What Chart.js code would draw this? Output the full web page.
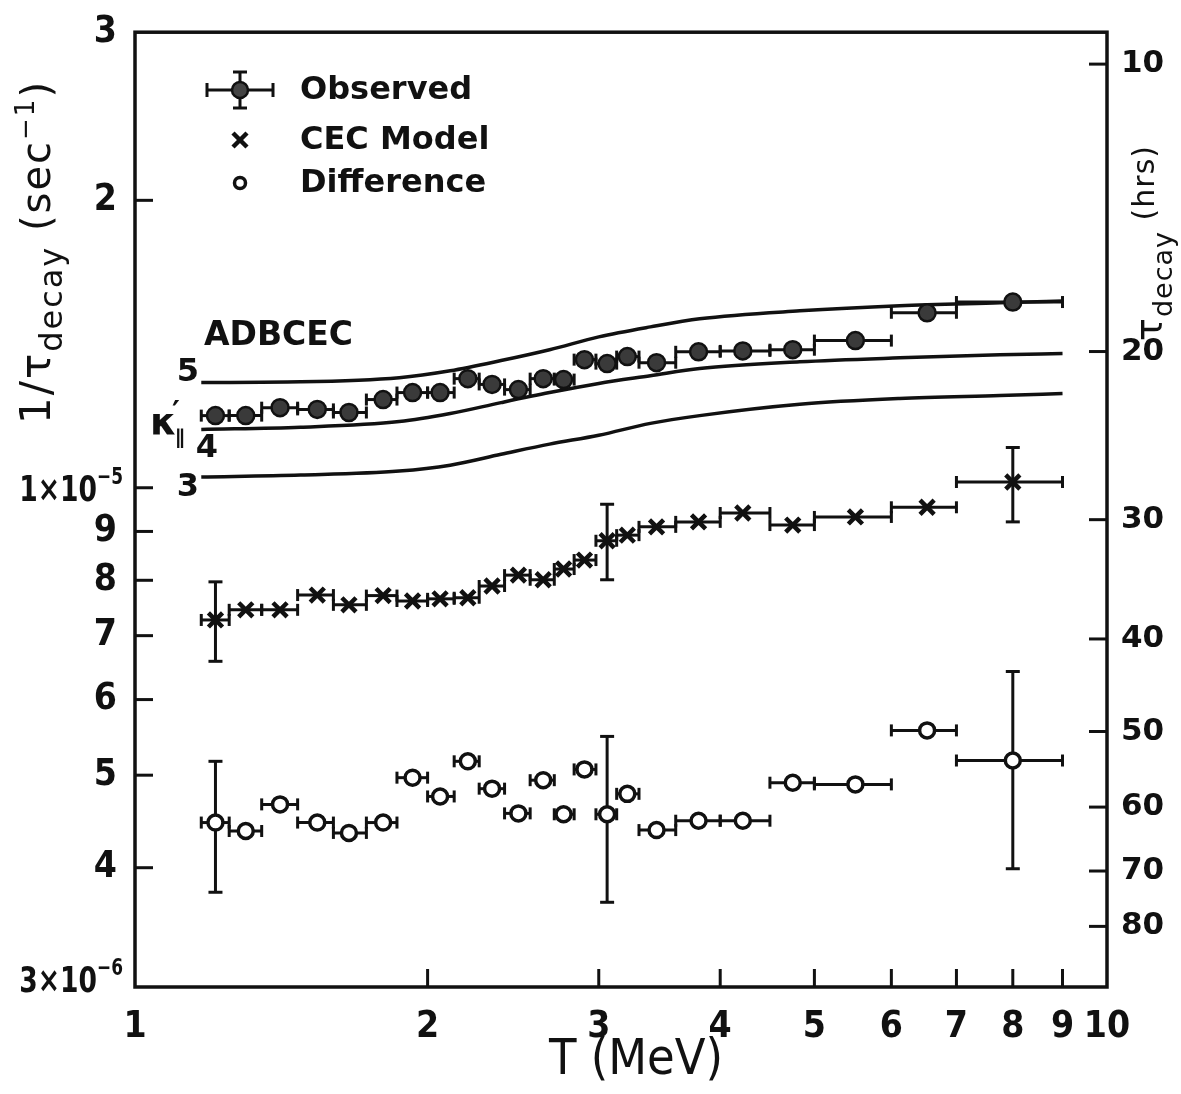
<!DOCTYPE html>
<html lang="en">
<head>
<meta charset="utf-8">
<title>Decay rate versus energy</title>
<script src="https://cdn.jsdelivr.net/npm/chart.js@4.4.1/dist/chart.umd.min.js"></script>
<style>
html,body{margin:0;padding:0;background:#fff;}
#wrap{position:relative;width:1181px;height:1094px;}
canvas{display:block;}
</style>
</head>
<body>
<div id="wrap"><canvas id="chart" width="1181" height="1094"></canvas></div>
<script>
// Energy bins (MeV): centre of each bin and its edges
const energy  = [1.21,1.30,1.41,1.54,1.66,1.80,1.93,2.06,2.20,2.33,2.48,2.63,2.76,2.90,3.06,3.21,3.44,3.80,4.22,4.75,5.51,6.53,8.0];
const binLow  = [1.17,1.25,1.35,1.47,1.60,1.73,1.86,2.00,2.13,2.26,2.40,2.55,2.70,2.83,2.98,3.13,3.30,3.60,4.0,4.5,5.0,6.0,7.0];
const binHigh = [1.25,1.35,1.47,1.60,1.73,1.86,2.00,2.13,2.26,2.40,2.55,2.70,2.83,2.98,3.13,3.30,3.60,4.0,4.5,5.0,6.0,7.0,9.0];

// 1/tau_decay (sec^-1)
const observed   = [1.190e-5,1.190e-5,1.213e-5,1.208e-5,1.199e-5,1.237e-5,1.258e-5,1.258e-5,1.301e-5,1.283e-5,1.267e-5,1.301e-5,1.298e-5,1.362e-5,1.349e-5,1.372e-5,1.352e-5,1.388e-5,1.391e-5,1.395e-5,1.426e-5,1.525e-5,1.565e-5];
const cecModel   = [7.27e-6,7.45e-6,7.45e-6,7.72e-6,7.54e-6,7.71e-6,7.61e-6,7.65e-6,7.67e-6,7.89e-6,8.10e-6,8.01e-6,8.22e-6,8.40e-6,8.80e-6,8.92e-6,9.10e-6,9.21e-6,9.41e-6,9.14e-6,9.32e-6,9.54e-6,1.014e-5];
const difference = [4.46e-6,4.37e-6,4.66e-6,4.46e-6,4.35e-6,4.46e-6,4.97e-6,4.75e-6,5.17e-6,4.84e-6,4.56e-6,4.94e-6,4.55e-6,5.07e-6,4.55e-6,4.78e-6,4.38e-6,4.48e-6,4.48e-6,4.91e-6,4.89e-6,5.57e-6,5.18e-6];

// Representative vertical error bars (bin index, low, high)
const errIndex    = [0, 14, 22];
const cecErrLow   = [6.58e-6, 8.01e-6, 9.21e-6];
const cecErrHigh  = [7.97e-6, 9.61e-6, 1.102e-5];
const diffErrLow  = [3.77e-6, 3.68e-6, 3.99e-6];
const diffErrHigh = [5.17e-6, 5.49e-6, 6.42e-6];

// ADBCEC calculation for kappa'_par = 5, 4, 3
const curveT = [1.17,1.48,1.87,2.11,2.38,2.67,3.0,3.39,3.81,4.83,6.12,7.76,9.0];
const kappa5 = [1.289e-5,1.291e-5,1.304e-5,1.326e-5,1.359e-5,1.395e-5,1.439e-5,1.474e-5,1.503e-5,1.532e-5,1.551e-5,1.562e-5,1.569e-5];
const kappa4 = [1.151e-5,1.157e-5,1.173e-5,1.196e-5,1.228e-5,1.258e-5,1.286e-5,1.310e-5,1.333e-5,1.355e-5,1.368e-5,1.378e-5,1.382e-5];
const kappa3 = [1.026e-5,1.031e-5,1.041e-5,1.056e-5,1.084e-5,1.111e-5,1.135e-5,1.168e-5,1.190e-5,1.223e-5,1.240e-5,1.249e-5,1.255e-5];

// Axis ticks
const xTicks      = [1,2,3,4,5,6,7,8,9,10];
const yTicks      = [3e-6,4e-6,5e-6,6e-6,7e-6,8e-6,9e-6,1e-5,2e-5,3e-5];
const yTickLabels = ['','4','5','6','7','8','9','','2','3'];
// decade labels written as mantissa×10^exponent
const yPowValues  = [1e-5, 3e-6];
const yPowBase    = ['1×10', '3×10'];
const yPowExp     = ['−5', '−6'];
const tauHours    = [10,20,30,40,50,60,70,80];

const INK = '#111';
const NARROW = '"Liberation Sans Narrow","DejaVu Sans Condensed","Liberation Sans",sans-serif';
const WIDE = '"DejaVu Sans",sans-serif';

const pts = (xs, ys) => xs.map((t, i) => ({x: t, y: ys[i]}));

function seg(ctx, x1, y1, x2, y2) {
  ctx.beginPath(); ctx.moveTo(x1, y1); ctx.lineTo(x2, y2); ctx.stroke();
}
function hErr(ctx, xs, ys, lo, hi, v, cap) {
  const a = xs.getPixelForValue(lo), b = xs.getPixelForValue(hi), p = ys.getPixelForValue(v);
  seg(ctx, a, p, b, p); seg(ctx, a, p - cap, a, p + cap); seg(ctx, b, p - cap, b, p + cap);
}
function vErr(ctx, xs, ys, t, lo, hi, cap) {
  const p = xs.getPixelForValue(t), a = ys.getPixelForValue(lo), b = ys.getPixelForValue(hi);
  seg(ctx, p, a, p, b); seg(ctx, p - cap, a, p + cap, a); seg(ctx, p - cap, b, p + cap, b);
}
function runsWidth(ctx, runs) {
  let w = 0;
  for (const r of runs) { ctx.font = r.font; w += ctx.measureText(r.text).width; }
  return w;
}
function drawRuns(ctx, runs, x, y) {
  let cx = x;
  for (const r of runs) { ctx.font = r.font; ctx.fillText(r.text, cx, y + (r.dy || 0)); cx += ctx.measureText(r.text).width; }
}
function drawVertical(ctx, runs, baseX, centerY, spacing) {
  ctx.save();
  ctx.letterSpacing = spacing || '0px';
  const w = runsWidth(ctx, runs);
  ctx.translate(baseX, centerY + w / 2);
  ctx.rotate(-Math.PI / 2);
  ctx.textAlign = 'left'; ctx.textBaseline = 'alphabetic';
  drawRuns(ctx, runs, 0, 0);
  ctx.restore();
}
// right-aligned, horizontally condensed label with a superscript exponent
function drawPowLabel(ctx, base, exp, rightX, midY) {
  const runs = [
    {text: base, font: 'bold 36px ' + NARROW},
    {text: exp, font: 'bold 23px ' + NARROW, dy: -17}
  ];
  const sx = 0.82;
  const w = runsWidth(ctx, runs) * sx;
  ctx.save();
  ctx.translate(rightX - w, midY + 13);
  ctx.scale(sx, 1);
  ctx.textAlign = 'left'; ctx.textBaseline = 'alphabetic';
  drawRuns(ctx, runs, 0, 0);
  ctx.restore();
}

const decor = {
  id: 'decor',
  beforeDatasetsDraw(chart) {
    const {ctx, scales: {x, y}} = chart;
    ctx.save();
    ctx.strokeStyle = INK; ctx.lineWidth = 3; ctx.lineCap = 'butt';
    energy.forEach((t, i) => {
      hErr(ctx, x, y, binLow[i], binHigh[i], observed[i], 6);
      hErr(ctx, x, y, binLow[i], binHigh[i], cecModel[i], 6);
      hErr(ctx, x, y, binLow[i], binHigh[i], difference[i], 6);
    });
    errIndex.forEach((k, j) => {
      vErr(ctx, x, y, energy[k], cecErrLow[j], cecErrHigh[j], 7);
      vErr(ctx, x, y, energy[k], diffErrLow[j], diffErrHigh[j], 7);
    });
    ctx.restore();
  },
  afterDraw(chart) {
    const {ctx, chartArea: ca, scales: {x, y, y2}} = chart;
    ctx.save();
    ctx.strokeStyle = INK; ctx.fillStyle = INK;
    // frame
    ctx.lineWidth = 3.5;
    ctx.strokeRect(ca.left, ca.top, ca.right - ca.left, ca.bottom - ca.top);
    // inward tick marks
    ctx.lineWidth = 3;
    const TL = 18;
    xTicks.slice(1, -1).forEach(v => { const p = x.getPixelForValue(v); seg(ctx, p, ca.bottom, p, ca.bottom - TL); });
    yTicks.slice(1, -1).forEach(v => { const p = y.getPixelForValue(v); seg(ctx, ca.left, p, ca.left + TL, p); });
    tauHours.forEach(h => { const p = y2.getPixelForValue(1 / (h * 3600)); seg(ctx, ca.right, p, ca.right - TL, p); });

    // decade tick labels
    yPowValues.forEach((v, i) => {
      const p = y.getPixelForValue(v);
      drawPowLabel(ctx, yPowBase[i], yPowExp[i], ca.left - 12, i === 1 ? p - 8 : p);
    });

    // legend
    const lx = 240;
    seg(ctx, lx - 33, 90, lx + 33, 90);
    seg(ctx, lx - 33, 83, lx - 33, 97); seg(ctx, lx + 33, 83, lx + 33, 97);
    seg(ctx, lx, 72, lx, 108);
    seg(ctx, lx - 7, 72, lx + 7, 72); seg(ctx, lx - 7, 108, lx + 7, 108);
    ctx.beginPath(); ctx.arc(lx, 90, 8, 0, Math.PI * 2);
    ctx.fillStyle = '#444'; ctx.fill(); ctx.lineWidth = 2.5; ctx.stroke();
    ctx.fillStyle = INK;
    ctx.lineWidth = 4.5;
    seg(ctx, lx - 7, 133, lx + 7, 147); seg(ctx, lx - 7, 147, lx + 7, 133);
    ctx.lineWidth = 3.5;
    ctx.beginPath(); ctx.arc(lx, 183, 5.5, 0, Math.PI * 2); ctx.stroke();
    ctx.font = 'bold 32px ' + WIDE;
    ctx.textAlign = 'left'; ctx.textBaseline = 'middle';
    ctx.fillText('Observed', 300, 91);
    ctx.fillText('CEC Model', 300, 141);
    ctx.fillText('Difference', 300, 184);

    // curve annotations
    ctx.font = 'bold 33px ' + WIDE;
    ctx.fillText('ADBCEC', 204, 336);
    ctx.textAlign = 'center';
    ctx.font = 'bold 32px ' + WIDE;
    ctx.fillText('5', 188, 373);
    ctx.fillText('4', 207, 449);
    ctx.fillText('3', 188, 488);
    ctx.textAlign = 'left'; ctx.textBaseline = 'alphabetic';
    ctx.font = 'bold 38px ' + WIDE;
    ctx.fillText('κ', 150, 434);
    ctx.font = 'bold 30px ' + WIDE;
    ctx.fillText('′', 172, 422);
    ctx.font = 'bold 20px ' + WIDE;
    ctx.fillText('∥', 175, 444);

    // axis titles
    drawVertical(ctx, [
      {text: '1/τ', font: '42px ' + WIDE},
      {text: 'decay', font: '32px ' + WIDE, dy: 12},
      {text: ' (sec', font: '40px ' + WIDE},
      {text: '−1', font: '26px ' + WIDE, dy: -16},
      {text: ')', font: '40px ' + WIDE}
    ], 50, 252, '2px');
    drawVertical(ctx, [
      {text: 'τ', font: '38px ' + WIDE},
      {text: 'decay', font: '27px ' + WIDE, dy: 10},
      {text: ' (hrs)', font: '30px ' + WIDE, dy: -8}
    ], 1162, 243, '1px');
    ctx.font = '50px ' + NARROW;
    ctx.textAlign = 'center'; ctx.textBaseline = 'alphabetic';
    ctx.fillText('T (MeV)', 636, 1074);
    ctx.restore();
  }
};

new Chart(document.getElementById('chart'), {
  type: 'scatter',
  data: {
    datasets: [
      {label: 'Observed', data: pts(energy, observed), pointStyle: 'circle', pointRadius: 8.5,
       backgroundColor: '#3a3a3a', borderColor: INK, borderWidth: 2.5, showLine: false},
      {label: 'CEC Model', data: pts(energy, cecModel), pointStyle: 'crossRot', pointRadius: 10,
       borderColor: INK, borderWidth: 4.5, showLine: false},
      {label: 'Difference', data: pts(energy, difference), pointStyle: 'circle', pointRadius: 7.5,
       backgroundColor: '#fff', borderColor: INK, borderWidth: 3.5, showLine: false},
      {label: "ADBCEC κ'=5", data: pts(curveT, kappa5), showLine: true, pointRadius: 0, borderColor: INK,
       borderWidth: 3.5, cubicInterpolationMode: 'monotone', fill: false},
      {label: "ADBCEC κ'=4", data: pts(curveT, kappa4), showLine: true, pointRadius: 0, borderColor: INK,
       borderWidth: 3.5, cubicInterpolationMode: 'monotone', fill: false},
      {label: "ADBCEC κ'=3", data: pts(curveT, kappa3), showLine: true, pointRadius: 0, borderColor: INK,
       borderWidth: 3.5, cubicInterpolationMode: 'monotone', fill: false}
    ]
  },
  options: {
    responsive: false,
    animation: false,
    devicePixelRatio: 1,
    layout: {padding: {top: 27, left: 0, right: 0, bottom: 0}},
    plugins: {legend: {display: false}, tooltip: {enabled: false}},
    scales: {
      x: {
        type: 'logarithmic', min: 1, max: 10,
        afterBuildTicks: s => { s.ticks = xTicks.map(v => ({value: v})); },
        afterFit: s => { s.height = 107; },
        grid: {display: false}, border: {display: false},
        ticks: {autoSkip: false, maxRotation: 0, padding: 10, color: INK,
                font: {family: NARROW, size: 37, weight: 'bold'},
                callback: (v, i) => String(xTicks[i])}
      },
      y: {
        type: 'logarithmic', position: 'left', min: 3e-6, max: 3e-5,
        afterBuildTicks: s => { s.ticks = yTicks.map(v => ({value: v})); },
        afterFit: s => { s.width = 135; },
        grid: {display: false}, border: {display: false},
        ticks: {autoSkip: false, padding: 10, color: INK,
                font: {family: NARROW, size: 37, weight: 'bold'},
                callback: (v, i) => yTickLabels[i]}
      },
      y2: {
        type: 'logarithmic', position: 'right', min: 3e-6, max: 3e-5,
        afterBuildTicks: s => { s.ticks = tauHours.map(h => ({value: 1 / (h * 3600)})); },
        afterFit: s => { s.width = 74; },
        grid: {display: false}, border: {display: false},
        ticks: {autoSkip: false, padding: 6, color: INK,
                font: {family: WIDE, size: 31, weight: 'bold'},
                callback: (v, i) => String(tauHours[i])}
      }
    }
  },
  plugins: [decor]
});
</script>
</body>
</html>
